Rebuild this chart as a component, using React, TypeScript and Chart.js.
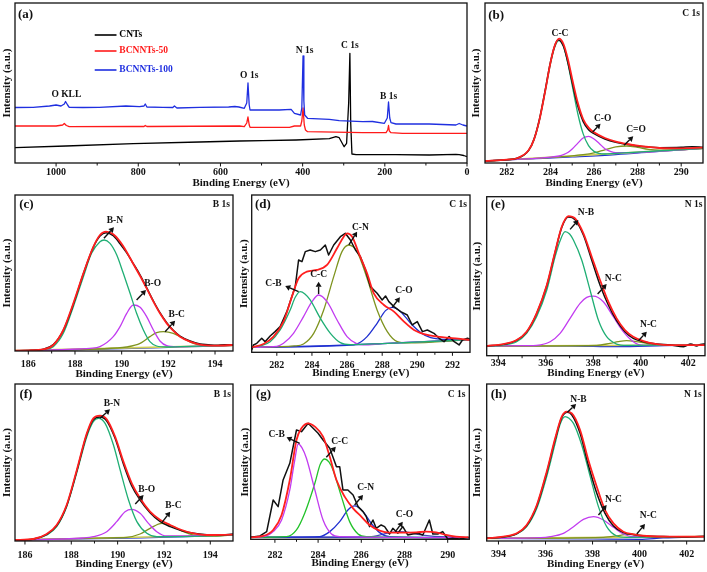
import React, { useEffect, useRef } from "react";
import { Chart, registerables } from "chart.js";

Chart.register(...registerables);

type Pair = [number, number];

const FONT = "'Liberation Serif', 'Times New Roman', Times, serif";
const X_TITLE = "Binding Energy (eV)";
const Y_TITLE = "Intensity (a.u.)";

const COL = {
  data: "#111111",
  fit: "#ff1f1f",
  teal: "#1fae74",
  magenta: "#c23cf0",
  olive: "#7f9420",
  blue: "#1f2fd0",
  lime: "#22c22a",
  navy: "#4848b8",
  base: "#cfcf55",
};

// ---------- (a) survey ----------
const aNames = ["CNTs", "BCNNTs-50", "BCNNTs-100"];
const aTicks = [1000, 800, 600, 400, 200, 0];
const aMinor = [900, 700, 500, 300, 100];
const aCNTs: Pair[] = [[1100, 15.3], [976, 17], [812, 19.3], [651, 21], [553, 22], [497, 22.3], [416, 23], [335, 24.3], [319, 26.3], [311, 25.3], [299, 16.3], [293, 19.7], [288, 60], [285, 109.7], [283, 40], [280, 9], [270, 8.3], [173, 8.3], [92, 8], [27, 8.7], [19, 8.3], [8, 7.5], [0, 6.3]];
const aB50: Pair[] = [[1100, 37], [1000, 37], [984, 38], [980, 39.5], [975, 37.5], [968, 36.3], [812, 36.5], [786, 36.5], [783, 37.5], [779, 36.5], [553, 37], [542, 36.3], [536, 40], [533, 46], [530, 38], [528, 35.7], [432, 35.7], [420, 37], [405, 37], [402, 42], [399, 55], [396, 38], [393, 33], [388, 31.3], [254, 30.3], [197, 30.3], [193, 33], [191, 37.5], [189, 32], [185, 30.3], [157, 29.7], [0, 29.7]];
const aB100: Pair[] = [[1100, 55.5], [1056, 55.7], [1016, 57], [1000, 58], [988, 57], [980, 59], [977, 61.5], [972, 58], [968, 55.7], [935, 55.5], [895, 55.7], [830, 57], [797, 56.3], [786, 57], [783, 59], [779, 56], [740, 55.7], [716, 55.5], [712, 57], [706, 55], [651, 55.7], [580, 56], [565, 56.5], [555, 56], [542, 54.7], [536, 60], [533, 80], [530, 58], [528, 53], [497, 53], [457, 53], [428, 53.7], [420, 49.7], [405, 48], [402, 55], [399, 107], [397, 62], [395, 48], [388, 44.7], [335, 43.7], [311, 42.3], [254, 41.3], [230, 41.5], [201, 39.7], [194, 45], [191, 61], [188, 45], [185, 40.3], [173, 39], [92, 39], [27, 38], [19, 39.5], [10, 38], [0, 37]];

// ---------- (b) C 1s (CNTs) ----------
const bTicks = [282, 284, 286, 288, 290];
const bBase: Pair[] = [[281, 6], [291, 44]];
const bBg: Pair[] = [[281, 6], [283, 12], [285, 18], [287, 25], [289, 35], [291, 44]];
const bCC: Pair[] = [[281, 6], [282, 10], [282.5, 14], [283, 37], [283.25, 70], [283.5, 129], [283.75, 210], [284, 297], [284.2, 348], [284.4, 368], [284.6, 350], [284.8, 300], [285, 233], [285.25, 150], [285.5, 88], [285.75, 52], [286, 35], [286.5, 27], [287, 29], [291, 44]];
const bCO: Pair[] = [[281, 6], [284, 17.4], [284.4, 21], [284.6, 25], [284.8, 31.5], [285, 42], [285.25, 59], [285.5, 75], [285.75, 80], [286, 72], [286.25, 58], [286.5, 43], [286.75, 35], [287, 31], [287.5, 31], [291, 44]];
const bCdO: Pair[] = [[281, 6], [285, 21.5], [285.5, 25], [286, 30.6], [286.5, 39.7], [287, 48.4], [287.5, 51], [288, 47], [288.5, 41], [289, 38.6], [290, 40.3], [291, 44]];
const bFit: Pair[] = [[281, 6], [282, 10], [282.5, 15], [283, 38], [283.25, 71], [283.5, 130], [283.75, 212], [284, 300], [284.2, 352], [284.4, 373], [284.6, 357], [284.8, 312], [285, 252], [285.25, 182], [285.5, 132], [285.75, 106], [286, 92], [286.5, 75], [287, 64], [287.5, 57], [288, 52], [288.5, 48], [289, 45], [290, 44], [291, 46]];
const bData: Pair[] = [[281, 6], [282, 10], [282.5, 15], [283, 38], [283.25, 72], [283.5, 132], [283.75, 215], [284, 302], [284.2, 352], [284.35, 370], [284.6, 350], [284.8, 302], [285, 242], [285.25, 172], [285.5, 125], [285.75, 100], [286, 88], [286.5, 72], [287, 62], [287.5, 56], [288, 51], [288.5, 48], [289, 46], [290, 47], [290.5, 49], [291, 47]];

// ---------- (c) B 1s ----------
const cTicks = [186, 188, 190, 192, 194];
const cBase: Pair[] = [[185.43, 1], [194.77, 17]];
const cBg: Pair[] = [[185.43, 1], [188, 4], [190, 7], [192, 11], [193.5, 14], [194.77, 17]];
const cBN: Pair[] = [[185.43, 1], [186, 2], [186.64, 4], [187.07, 13], [187.5, 53], [187.93, 133], [188.36, 223], [188.71, 293], [189.07, 328], [189.25, 333], [189.5, 323], [189.79, 288], [190.07, 233], [190.36, 173], [190.64, 113], [190.93, 63], [191.21, 28], [191.5, 15], [191.93, 12], [192.5, 13], [194.77, 17]];
const cBO: Pair[] = [[185.43, 1], [188.2, 6], [188.64, 8], [189.07, 13], [189.64, 43], [189.93, 73], [190.21, 112], [190.5, 138], [190.79, 131], [191.07, 103], [191.36, 63], [191.64, 30], [191.93, 16], [192.36, 13], [194.77, 17]];
const cBC: Pair[] = [[185.43, 1], [189.8, 9], [190.21, 12], [190.79, 23], [191.21, 43], [191.5, 55], [191.79, 58], [192.21, 53], [192.64, 38], [193.07, 23], [193.64, 15], [194.77, 17]];
const cFit: Pair[] = [[185.43, 1], [186, 2], [186.64, 5], [187.07, 18], [187.5, 63], [187.93, 143], [188.36, 233], [188.79, 313], [189.07, 348], [189.33, 358], [189.64, 350], [189.93, 328], [190.21, 298], [190.5, 261], [190.79, 225], [191.07, 188], [191.36, 148], [191.64, 113], [191.93, 83], [192.21, 61], [192.5, 43], [192.93, 28], [193.36, 19], [194.07, 16], [194.77, 18]];
const cData: Pair[] = [[185.43, 0], [186, 1], [186.64, 5], [187.07, 19], [187.5, 62], [187.93, 140], [188.36, 232], [188.79, 312], [189.07, 345], [189.33, 355], [189.64, 346], [189.93, 322], [190.21, 295], [190.5, 262], [190.79, 228], [191.07, 190], [191.36, 150], [191.64, 115], [191.93, 85], [192.21, 62], [192.5, 45], [192.93, 30], [193.36, 21], [193.7, 19], [194.07, 17], [194.4, 19], [194.77, 18]];

// ---------- (d) C 1s (BCNNTs-100) ----------
const dTicks = [282, 284, 286, 288, 290, 292];
const dBase: Pair[] = [[280.57, 15], [285, 20], [288, 26], [293, 38]];
const dCB: Pair[] = [[280.57, 15], [281.05, 19], [281.62, 32], [282.19, 67], [282.76, 127], [283.05, 165], [283.33, 182], [283.6, 175], [283.9, 157], [284.48, 102], [285.05, 57], [285.62, 29], [286.19, 23], [288, 26], [293, 38]];
const dCC: Pair[] = [[280.57, 15], [282, 18], [282.38, 27], [282.95, 57], [283.52, 107], [284, 152], [284.38, 172], [284.86, 152], [285.43, 97], [286, 47], [286.57, 25], [286.95, 22], [288, 26], [293, 38]];
const dCN: Pair[] = [[280.57, 15], [283, 19], [283.52, 25], [284.1, 57], [284.67, 127], [285.24, 227], [285.71, 302], [286.1, 322], [286.57, 302], [287.14, 222], [287.71, 127], [288.29, 62], [288.86, 32], [289.43, 28], [293, 38]];
const dCO: Pair[] = [[280.57, 15], [286, 21], [286.57, 25], [287.14, 47], [287.71, 87], [288.19, 125], [288.57, 135], [289.05, 122], [289.62, 87], [290.19, 59], [290.76, 44], [291.52, 39], [293, 38]];
const dFit: Pair[] = [[280.57, 15], [281.24, 25], [281.81, 47], [282.38, 92], [282.86, 167], [283.24, 222], [283.71, 242], [284.29, 247], [284.86, 262], [285.43, 312], [285.81, 347], [286, 357], [286.29, 347], [286.67, 297], [287.14, 237], [287.52, 177], [288.1, 142], [288.67, 122], [289.24, 92], [289.81, 67], [290.57, 52], [291.52, 45], [292.67, 39], [293, 37]];
const dData: Pair[] = [[280.57, 7], [280.67, 22], [280.86, 27], [281.14, 42], [281.33, 32], [281.62, 49], [281.9, 62], [282.19, 77], [282.57, 122], [282.95, 182], [283.05, 197], [283.24, 277], [283.43, 272], [283.62, 302], [283.9, 307], [284.19, 302], [284.48, 307], [284.76, 322], [284.95, 292], [285.24, 322], [285.62, 347], [285.9, 357], [286.19, 337], [286.48, 307], [286.76, 287], [287.05, 247], [287.33, 197], [287.71, 177], [288, 157], [288.19, 169], [288.38, 152], [288.67, 137], [289.05, 122], [289.43, 112], [289.71, 82], [290, 92], [290.29, 62], [290.57, 67], [290.95, 57], [291.24, 42], [291.52, 32], [291.81, 47], [292.1, 32], [292.38, 22], [292.57, 37], [292.86, 42], [293, 39]];

// ---------- (e) N 1s (BCNNTs-100) ----------
const eTicks = [394, 396, 398, 400, 402];
const eBase: Pair[] = [[393.51, 29], [402.7, 32]];
const eBg: Pair[] = [[393.51, 29], [397, 29], [399, 27], [401, 30], [402.7, 32]];
const eNB: Pair[] = [[393.51, 29], [394.21, 32], [394.77, 42], [395.19, 67], [395.61, 117], [396.04, 197], [396.39, 297], [396.6, 345], [396.81, 372], [397, 365], [397.16, 347], [397.51, 287], [397.86, 197], [398.21, 107], [398.56, 57], [398.98, 35], [399.4, 31], [402.7, 32]];
const eNC1: Pair[] = [[393.51, 29], [395.2, 30], [395.61, 31], [396.18, 42], [396.6, 67], [397.02, 112], [397.44, 157], [397.72, 175], [398, 179], [398.42, 162], [398.84, 117], [399.26, 72], [399.68, 42], [400.11, 31], [402.7, 32]];
const eNC2: Pair[] = [[393.51, 29], [398.14, 31], [398.7, 37], [399.05, 42], [399.4, 45], [399.75, 43], [400.1, 39], [400.67, 31], [402.7, 32]];
const eFit: Pair[] = [[393.51, 29], [394.21, 35], [394.77, 47], [395.19, 72], [395.61, 127], [396.04, 212], [396.39, 312], [396.67, 387], [396.95, 419], [397.23, 412], [397.58, 367], [397.93, 297], [398.28, 227], [398.63, 162], [398.98, 112], [399.33, 77], [399.68, 57], [400.11, 44], [400.67, 35], [401.23, 32], [402.7, 32]];
const eData: Pair[] = [[393.51, 29], [394.21, 34], [394.77, 46], [395.19, 71], [395.61, 126], [396.04, 210], [396.39, 310], [396.67, 385], [396.95, 416], [397.23, 408], [397.58, 362], [397.93, 287], [398.28, 212], [398.63, 152], [398.98, 105], [399.33, 72], [399.68, 52], [400.11, 42], [400.67, 35], [401.23, 32], [401.8, 27], [402.1, 35], [402.35, 29], [402.5, 34], [402.7, 35]];

// ---------- (f) B 1s (BCNNTs-50) ----------
const fTicks = [186, 188, 190, 192, 194];
const fBase: Pair[] = [[185.57, 3], [194.98, 18]];
const fBg: Pair[] = [[185.57, 3], [189, 7], [191, 9], [193, 13], [194.98, 18]];
const fBN: Pair[] = [[185.57, 3], [186.36, 5], [186.94, 18], [187.37, 43], [187.8, 103], [188.23, 203], [188.67, 313], [188.95, 358], [189.17, 368], [189.46, 353], [189.82, 288], [190.11, 213], [190.47, 123], [190.83, 58], [191.26, 23], [191.69, 13], [192.5, 13], [194.98, 18]];
const fBO: Pair[] = [[185.57, 3], [188.5, 9], [188.95, 13], [189.53, 28], [189.96, 58], [190.32, 88], [190.61, 95], [190.97, 83], [191.33, 53], [191.69, 28], [192.12, 15], [194.98, 18]];
const fBC: Pair[] = [[185.57, 3], [190, 10], [190.39, 11], [190.97, 21], [191.4, 38], [191.91, 53], [192.41, 43], [192.84, 28], [193.42, 16], [194.29, 15], [194.98, 18]];
const fFit: Pair[] = [[185.57, 3], [186.36, 6], [186.94, 21], [187.37, 48], [187.8, 108], [188.23, 211], [188.67, 323], [188.95, 368], [189.24, 376], [189.53, 365], [189.89, 313], [190.25, 238], [190.61, 173], [190.97, 128], [191.4, 88], [191.84, 63], [192.27, 48], [192.77, 33], [193.28, 23], [193.85, 18], [194.98, 19]];
const fData: Pair[] = [[185.57, 1], [186.36, 6], [186.94, 20], [187.37, 46], [187.8, 106], [188.23, 208], [188.67, 320], [188.95, 364], [189.24, 372], [189.53, 360], [189.89, 308], [190.25, 231], [190.61, 165], [190.97, 123], [191.4, 85], [191.84, 58], [192.27, 43], [192.77, 31], [193.28, 23], [193.85, 19], [194.4, 18], [194.98, 21]];

// ---------- (g) C 1s (BCNNTs-50) ----------
const gTicks = [282, 284, 286, 288, 290];
const gBase: Pair[] = [[280.88, 6], [291, 5]];
const gCB: Pair[] = [[280.88, 6], [281.46, 8], [281.92, 23], [282.31, 58], [282.69, 148], [282.9, 230], [283.08, 286], [283.25, 275], [283.46, 243], [283.85, 148], [284.23, 58], [284.62, 16], [285, 8], [291, 5]];
const gCC: Pair[] = [[280.88, 6], [282.54, 8], [283, 28], [283.38, 78], [283.85, 168], [284.1, 225], [284.31, 241], [284.5, 232], [284.69, 208], [285.08, 128], [285.46, 53], [285.85, 16], [286.23, 8], [291, 5]];
const gCN: Pair[] = [[280.88, 6], [284.08, 8], [284.54, 23], [285, 53], [285.38, 88], [285.69, 100], [286.08, 83], [286.46, 48], [286.85, 20], [287.31, 8], [291, 5]];
const gCO: Pair[] = [[280.88, 6], [286.38, 8], [287, 15], [287.4, 21], [287.77, 23], [288.2, 21], [288.7, 14], [289.15, 10], [291, 5]];
const gFit: Pair[] = [[280.88, 6], [281.46, 10], [281.92, 28], [282.31, 73], [282.69, 178], [283, 298], [283.23, 333], [283.54, 348], [283.85, 338], [284.23, 308], [284.54, 248], [284.85, 178], [285.23, 128], [285.62, 93], [286, 68], [286.38, 43], [286.85, 26], [287.31, 20], [287.92, 20], [288.54, 21], [289, 23], [289.46, 21], [289.92, 13], [290.38, 8], [290.97, 6]];
const gData: Pair[] = [[280.88, 6], [281.31, 10], [281.62, 23], [281.92, 118], [282.15, 98], [282.38, 178], [282.69, 228], [283, 328], [283.23, 323], [283.54, 348], [283.77, 333], [284, 318], [284.23, 298], [284.54, 273], [284.85, 218], [285, 218], [285.15, 148], [285.38, 148], [285.62, 133], [285.85, 98], [286.08, 83], [286.23, 68], [286.38, 38], [286.54, 58], [286.69, 33], [286.92, 43], [287.08, 38], [287.31, 16], [287.46, 33], [287.69, 18], [287.92, 38], [288.15, 13], [288.38, 16], [288.62, 18], [288.85, 13], [289.15, 58], [289.31, 16], [289.54, 16], [289.77, 23], [290, 1], [290.23, 3], [290.54, 1], [290.97, 6]];

// ---------- (h) N 1s (BCNNTs-50) ----------
const hTicks = [394, 396, 398, 400, 402];
const hBase: Pair[] = [[393.5, 8], [402.75, 13]];
const hBg: Pair[] = [[393.5, 8], [398, 6], [400, 5], [401, 9], [402.75, 13]];
const hNB: Pair[] = [[393.5, 8], [394.21, 11], [394.78, 21], [395.2, 43], [395.63, 98], [396.05, 193], [396.41, 293], [396.62, 350], [396.83, 373], [397, 368], [397.19, 353], [397.54, 288], [397.9, 193], [398.25, 103], [398.6, 43], [399.03, 15], [399.45, 11], [402.75, 13]];
const hNC1: Pair[] = [[393.5, 8], [395.8, 10], [396.2, 13], [396.76, 23], [397.19, 43], [397.61, 65], [398.04, 73], [398.46, 63], [398.89, 41], [399.31, 21], [399.74, 13], [402.75, 13]];
const hNC2: Pair[] = [[393.5, 8], [398.46, 11], [399.1, 16], [399.6, 21], [400.1, 16], [400.73, 11], [402.75, 13]];
const hFit: Pair[] = [[393.5, 8], [394.21, 13], [394.78, 23], [395.2, 48], [395.63, 108], [396.05, 208], [396.41, 308], [396.69, 373], [396.9, 388], [397.12, 383], [397.47, 333], [397.82, 243], [398.18, 163], [398.53, 93], [398.89, 53], [399.31, 28], [399.74, 20], [400.3, 15], [401.29, 13], [402.75, 13]];
const hData: Pair[] = [[393.5, 8], [394.21, 12], [394.78, 22], [395.2, 46], [395.63, 105], [396.05, 204], [396.41, 304], [396.69, 370], [396.93, 386], [397.12, 378], [397.47, 323], [397.82, 228], [398.18, 143], [398.53, 83], [398.89, 45], [399.31, 25], [399.74, 19], [400.3, 15], [401.29, 13], [402, 12], [402.75, 14]];

// ---------- panel description ----------
type Series = { d: Pair[]; c: string; w: number; smooth?: boolean };
type Label = { t: string; x: number; y: number; a?: CanvasTextAlign; s?: number; c?: string };
type Arrow = [number, number, number, number];
type Panel = {
  box: [number, number, number, number];
  frame: [number, number, number, number];
  x: [number, number];
  rev?: boolean;
  y: [number, number];
  major: number[];
  minor: number[];
  tickY: number;
  titleY: number;
  yTitleX: number;
  series: Series[];
  labels: Label[];
  arrows: Arrow[];
  legend?: { names: string[]; colors: string[]; ys: number[]; x1: number; x2: number; tx: number };
};

const minorOf = (t: number[]) => t.slice(0, -1).map((v, i) => (v + t[i + 1]) / 2);

const comp = (d: Pair[], c: string): Series => ({ d, c, w: 1.3, smooth: true });
const stdTop = (data: Pair[], fit: Pair[], smoothData: boolean): Series[] => [
  { d: data, c: COL.data, w: 1.5, smooth: smoothData },
  { d: fit, c: COL.fit, w: 1.8, smooth: true },
];

const PANELS: Panel[] = [
  {
    box: [0, 0, 472, 192], frame: [15, 3, 467, 163], x: [0, 1100], rev: true, y: [0, 160],
    major: aTicks, minor: aMinor, tickY: 172.5, titleY: 183.5, yTitleX: 7,
    series: [
      { d: aCNTs, c: "#000000", w: 1.3 },
      { d: aB50, c: "#ff1a1a", w: 1.3 },
      { d: aB100, c: "#1f2fe0", w: 1.3 },
    ],
    labels: [
      { t: "(a)", x: 1093, y: 148, a: "left", s: 13 },
      { t: "O KLL", x: 975, y: 68 },
      { t: "O 1s", x: 530, y: 87 },
      { t: "N 1s", x: 395, y: 112 },
      { t: "C 1s", x: 285, y: 117 },
      { t: "B 1s", x: 191, y: 66 },
    ],
    arrows: [],
    legend: { names: aNames, colors: ["#000000", "#ff1a1a", "#1f2fe0"], ys: [128, 112, 93], x1: 906, x2: 853, tx: 846 },
  },
  {
    box: [468, 0, 239, 192], frame: [485, 3, 703, 163], x: [281, 291], y: [0, 480],
    major: bTicks, minor: minorOf(bTicks), tickY: 172.5, titleY: 183, yTitleX: 476,
    series: [
      { d: bBg, c: COL.blue, w: 1.2, smooth: true },
      { d: bBase, c: COL.base, w: 1.6 },
      comp(bCdO, COL.olive), comp(bCO, COL.magenta), comp(bCC, COL.teal),
      ...stdTop(bData, bFit, true),
    ],
    labels: [
      { t: "(b)", x: 281.15, y: 443, a: "left", s: 13 },
      { t: "C 1s", x: 290.86, y: 449, a: "right" },
      { t: "C-C", x: 284.44, y: 389 },
      { t: "C-O", x: 286.4, y: 134 },
      { t: "C=O", x: 287.93, y: 101 },
    ],
    arrows: [[285.94, 93, 286.3, 118], [287.38, 53, 287.8, 80]],
  },
  {
    box: [0, 190, 240, 192], frame: [15, 195, 233, 351], x: [185.43, 194.77], y: [0, 468],
    major: cTicks, minor: minorOf(cTicks), tickY: 364, titleY: 374.5, yTitleX: 7,
    series: [
      { d: cBg, c: COL.blue, w: 1.2, smooth: true },
      { d: cBase, c: COL.base, w: 1.6 },
      comp(cBC, COL.olive), comp(cBO, COL.magenta), comp(cBN, COL.teal),
      ...stdTop(cData, cFit, true),
    ],
    labels: [
      { t: "(c)", x: 185.61, y: 438, a: "left", s: 13 },
      { t: "B 1s", x: 194.64, y: 438, a: "right" },
      { t: "B-N", x: 189.71, y: 391 },
      { t: "B-O", x: 191.33, y: 201 },
      { t: "B-C", x: 192.36, y: 108 },
    ],
    arrows: [[189.24, 338, 189.67, 371], [190.64, 153, 191.04, 183], [191.86, 58, 192.29, 91]],
  },
  {
    box: [236, 190, 239, 192], frame: [251.7, 195, 470, 352.3], x: [280.57, 293], y: [0, 472],
    major: dTicks, minor: minorOf(dTicks), tickY: 365, titleY: 373.5, yTitleX: 244,
    series: [
      { d: dBase, c: COL.blue, w: 1.3, smooth: true },
      comp(dCO, COL.blue), comp(dCN, COL.olive), comp(dCC, COL.magenta), comp(dCB, COL.teal),
      ...stdTop(dData, dFit, false),
    ],
    labels: [
      { t: "(d)", x: 280.76, y: 442, a: "left", s: 13 },
      { t: "C 1s", x: 292.82, y: 442, a: "right" },
      { t: "C-N", x: 286.76, y: 375 },
      { t: "C-B", x: 281.81, y: 205 },
      { t: "C-C", x: 284.38, y: 232 },
      { t: "C-O", x: 289.24, y: 185 },
    ],
    arrows: [[286.1, 322, 286.57, 362], [283.24, 182, 282.48, 199], [284.38, 175, 284.38, 212], [288.57, 135, 289.01, 165]],
  },
  {
    box: [469, 190, 238, 192], frame: [486.7, 196.7, 705, 355.7], x: [393.51, 402.7], y: [0, 477],
    major: eTicks, minor: minorOf(eTicks), tickY: 363.5, titleY: 373, yTitleX: 477,
    series: [
      { d: eBg, c: COL.blue, w: 1.2, smooth: true },
      { d: eBase, c: COL.base, w: 1.6 },
      comp(eNC2, COL.olive), comp(eNC1, COL.magenta), comp(eNB, COL.teal),
      ...stdTop(eData, eFit, true),
    ],
    labels: [
      { t: "(e)", x: 393.68, y: 452, a: "left", s: 13 },
      { t: "N 1s", x: 402.59, y: 452, a: "right" },
      { t: "N-B", x: 397.69, y: 429 },
      { t: "N-C", x: 398.84, y: 232 },
      { t: "N-C", x: 400.32, y: 92 },
    ],
    arrows: [[397.02, 379, 397.37, 407], [398.18, 185, 398.56, 215], [399.9, 45, 400.25, 72]],
  },
  {
    box: [0, 380, 240, 192], frame: [15, 384, 233, 541], x: [185.57, 194.98], y: [0, 471],
    major: fTicks, minor: minorOf(fTicks), tickY: 555, titleY: 564, yTitleX: 7,
    series: [
      { d: fBg, c: COL.blue, w: 1.2, smooth: true },
      { d: fBase, c: COL.base, w: 1.6 },
      comp(fBC, COL.olive), comp(fBO, COL.magenta), comp(fBN, COL.teal),
      ...stdTop(fData, fFit, true),
    ],
    labels: [
      { t: "(f)", x: 185.76, y: 438, a: "left", s: 13 },
      { t: "B 1s", x: 194.89, y: 438, a: "right" },
      { t: "B-N", x: 189.75, y: 413 },
      { t: "B-O", x: 191.26, y: 153 },
      { t: "B-C", x: 192.41, y: 105 },
    ],
    arrows: [[189.24, 368, 189.67, 395], [190.76, 111, 191.12, 138], [191.91, 55, 192.27, 88]],
  },
  {
    box: [236, 380, 239, 192], frame: [250.7, 385, 469.3, 539.3], x: [280.88, 291], y: [0, 463],
    major: gTicks, minor: minorOf(gTicks), tickY: 555, titleY: 563.5, yTitleX: 245,
    series: [
      { d: gBase, c: COL.blue, w: 1.4 },
      comp(gCO, COL.navy), comp(gCN, COL.blue), comp(gCC, COL.lime), comp(gCB, COL.magenta),
      ...stdTop(gData, gFit, false),
    ],
    labels: [
      { t: "(g)", x: 281.12, y: 433, a: "left", s: 13 },
      { t: "C 1s", x: 290.82, y: 433, a: "right" },
      { t: "C-B", x: 282.08, y: 313 },
      { t: "C-C", x: 285.0, y: 293 },
      { t: "C-N", x: 286.2, y: 156 },
      { t: "C-O", x: 288.0, y: 73 },
    ],
    arrows: [[283.15, 288, 282.54, 306], [284.38, 246, 284.82, 278], [285.69, 103, 286.08, 133], [287.58, 23, 287.92, 53]],
  },
  {
    box: [469, 380, 238, 192], frame: [486.7, 384, 704.3, 541], x: [393.5, 402.75], y: [0, 471],
    major: hTicks, minor: minorOf(hTicks), tickY: 554.5, titleY: 564, yTitleX: 477,
    series: [
      { d: hBg, c: COL.blue, w: 1.2, smooth: true },
      { d: hBase, c: COL.base, w: 1.6 },
      comp(hNC2, COL.olive), comp(hNC1, COL.magenta), comp(hNB, COL.teal),
      ...stdTop(hData, hFit, true),
    ],
    labels: [
      { t: "(h)", x: 393.67, y: 438, a: "left", s: 13 },
      { t: "N 1s", x: 402.64, y: 438, a: "right" },
      { t: "N-B", x: 397.4, y: 425 },
      { t: "N-C", x: 398.89, y: 125 },
      { t: "N-C", x: 400.37, y: 75 },
    ],
    arrows: [[396.93, 386, 397.3, 411], [398.25, 78, 398.6, 108], [399.88, 21, 400.23, 51]],
  },
];

function makeDecor(p: Panel) {
  return {
    id: "decor",
    afterDatasetsDraw(chart: any) {
      const ctx: CanvasRenderingContext2D = chart.ctx;
      const xs = chart.scales.x;
      const ys = chart.scales.y;
      const [cx, cy] = p.box;
      const { left, top, right, bottom } = chart.chartArea;
      ctx.save();
      // frame
      ctx.strokeStyle = "#111";
      ctx.lineWidth = 1.3;
      ctx.strokeRect(left, top, right - left, bottom - top);
      // ticks
      ctx.lineWidth = 1;
      ctx.beginPath();
      p.major.forEach((v) => {
        const px = xs.getPixelForValue(v);
        ctx.moveTo(px, bottom);
        ctx.lineTo(px, bottom + 3.5);
      });
      p.minor.forEach((v) => {
        const px = xs.getPixelForValue(v);
        ctx.moveTo(px, bottom);
        ctx.lineTo(px, bottom + 2.5);
      });
      ctx.stroke();
      // tick labels
      ctx.fillStyle = "#111";
      ctx.font = `bold 10px ${FONT}`;
      ctx.textAlign = "center";
      ctx.textBaseline = "middle";
      p.major.forEach((v) => {
        ctx.fillText(String(v), xs.getPixelForValue(v), p.tickY - cy);
      });
      // axis titles
      ctx.font = `bold 11px ${FONT}`;
      ctx.fillText(X_TITLE, (left + right) / 2, p.titleY - cy);
      ctx.save();
      ctx.translate(p.yTitleX - cx, (top + bottom) / 2);
      ctx.rotate(-Math.PI / 2);
      ctx.fillText(Y_TITLE, 0, 0);
      ctx.restore();
      // labels
      p.labels.forEach((l) => {
        ctx.font = `bold ${l.s || 9.5}px ${FONT}`;
        ctx.fillStyle = l.c || "#111";
        ctx.textAlign = l.a || "center";
        ctx.fillText(l.t, xs.getPixelForValue(l.x), ys.getPixelForValue(l.y));
      });
      // legend
      if (p.legend) {
        const lg = p.legend;
        lg.names.forEach((n, i) => {
          const py = ys.getPixelForValue(lg.ys[i]);
          ctx.strokeStyle = lg.colors[i];
          ctx.lineWidth = 1.6;
          ctx.beginPath();
          ctx.moveTo(xs.getPixelForValue(lg.x1), py);
          ctx.lineTo(xs.getPixelForValue(lg.x2), py);
          ctx.stroke();
          ctx.fillStyle = lg.colors[i];
          ctx.font = `bold 9.5px ${FONT}`;
          ctx.textAlign = "left";
          ctx.fillText(n, xs.getPixelForValue(lg.tx), py);
        });
      }
      // arrows
      ctx.strokeStyle = "#111";
      ctx.fillStyle = "#111";
      p.arrows.forEach(([x1, y1, x2, y2]) => {
        const ax = xs.getPixelForValue(x1), ay = ys.getPixelForValue(y1);
        const bx = xs.getPixelForValue(x2), by = ys.getPixelForValue(y2);
        const ang = Math.atan2(by - ay, bx - ax);
        const hl = 5, hw = 3;
        const baseX = bx - hl * Math.cos(ang), baseY = by - hl * Math.sin(ang);
        ctx.lineWidth = 1.4;
        ctx.beginPath();
        ctx.moveTo(ax, ay);
        ctx.lineTo(baseX, baseY);
        ctx.stroke();
        ctx.beginPath();
        ctx.moveTo(bx, by);
        ctx.lineTo(baseX + hw * Math.sin(ang), baseY - hw * Math.cos(ang));
        ctx.lineTo(baseX - hw * Math.sin(ang), baseY + hw * Math.cos(ang));
        ctx.closePath();
        ctx.fill();
      });
      ctx.restore();
    },
  };
}

function PanelChart({ p }: { p: Panel }) {
  const ref = useRef<HTMLCanvasElement>(null);
  useEffect(() => {
    const [cx, cy, cw, ch] = p.box;
    const [L, T, R, B] = p.frame;
    const datasets = p.series
      .slice()
      .reverse()
      .map((s) => ({
        data: s.d.map(([x, y]) => ({ x, y })),
        borderColor: s.c,
        borderWidth: s.w,
        pointRadius: 0,
        fill: false,
        tension: 0,
        cubicInterpolationMode: s.smooth ? "monotone" : "default",
        borderJoinStyle: "round",
      }));
    const chart = new Chart(ref.current as HTMLCanvasElement, {
      type: "line",
      data: { datasets } as any,
      options: {
        responsive: false,
        maintainAspectRatio: false,
        animation: false,
        events: [],
        layout: { padding: { left: L - cx, top: T - cy, right: cx + cw - R, bottom: cy + ch - B } },
        plugins: { legend: { display: false }, tooltip: { enabled: false } },
        scales: {
          x: { type: "linear", display: false, min: p.x[0], max: p.x[1], reverse: !!p.rev },
          y: { type: "linear", display: false, min: p.y[0], max: p.y[1] },
        },
      } as any,
      plugins: [makeDecor(p)],
    });
    return () => chart.destroy();
  }, [p]);
  const [cx, cy, cw, ch] = p.box;
  return (
    <canvas
      ref={ref}
      width={cw}
      height={ch}
      style={{ position: "absolute", left: cx, top: cy, width: cw, height: ch }}
    />
  );
}

export default function App() {
  return (
    <div style={{ position: "fixed", left: 0, top: 0, width: 707, height: 572, background: "#ffffff", overflow: "hidden" }}>
      {PANELS.map((p, i) => (
        <PanelChart key={i} p={p} />
      ))}
    </div>
  );
}
